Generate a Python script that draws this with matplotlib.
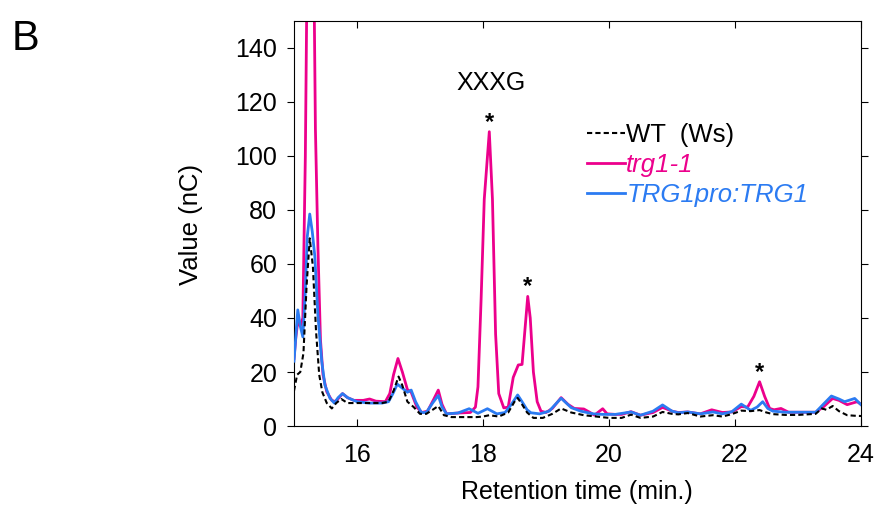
import matplotlib
matplotlib.use("Agg")
import matplotlib.pyplot as plt

plt.rcParams['font.family'] = ['Liberation Sans', 'DejaVu Sans']

# retention time (min.) / value (nC)
wt_t = [15.0, 15.05, 15.1, 15.15, 15.2, 15.25, 15.3, 15.35, 15.4, 15.45, 15.52, 15.6, 15.67,
        15.75, 15.85, 16.0, 16.2, 16.4, 16.5, 16.58, 16.66, 16.72, 16.8, 16.9, 17.0, 17.1,
        17.2, 17.29, 17.38, 17.5, 17.7, 17.9, 18.0, 18.1, 18.25, 18.4, 18.5, 18.55, 18.62,
        18.7, 18.8, 18.95, 19.1, 19.24, 19.4, 19.6, 19.8, 20.0, 20.2, 20.35, 20.5, 20.7,
        20.85, 21.0, 21.1, 21.25, 21.45, 21.65, 21.8, 21.95, 22.1, 22.25, 22.39, 22.5, 22.6,
        22.8, 23.0, 23.28, 23.38, 23.45, 23.55, 23.65, 23.78, 23.9, 24.0]
wt_v = [13, 19, 20, 27, 52, 69.5, 59, 35, 19, 12.5, 8.5, 6.5, 8.5,
        10, 8.5, 8.5, 8.5, 8.5, 9, 13, 18.3, 15, 9, 7, 4.5, 4.5,
        6, 7.4, 4, 3.3, 3.3, 3.3, 3.5, 4, 3.5, 5, 9, 10.4, 8,
        5, 3, 3, 4.5, 6.5, 5, 4, 3.5, 3, 3, 4.2, 3, 3.5,
        5.2, 4.5, 4.3, 4.8, 3.5, 4, 3.5, 4.4, 5.7, 5.5, 5.9, 5, 4.4,
        4.1, 4.1, 4.5, 6.5, 6, 7.4, 5.5, 4, 3.8, 3.7]

trg_t = [15.0, 15.03, 15.06, 15.1, 15.14, 15.18, 15.22, 15.26, 15.29, 15.34, 15.38, 15.42,
         15.46, 15.52, 15.6, 15.66, 15.77, 15.85, 15.95, 16.1, 16.2, 16.3, 16.45, 16.52,
         16.58, 16.65, 16.72, 16.8, 16.86, 16.95, 17.03, 17.12, 17.22, 17.29, 17.35, 17.42,
         17.6, 17.8, 17.88, 17.92, 17.97, 18.02, 18.1, 18.15, 18.2, 18.25, 18.33, 18.4,
         18.48, 18.56, 18.62, 18.66, 18.71, 18.75, 18.8, 18.86, 18.92, 19.0, 19.1, 19.24,
         19.35, 19.45, 19.6, 19.7, 19.77, 19.85, 19.9, 19.97, 20.1, 20.2, 20.35, 20.5, 20.7,
         20.85, 21.0, 21.1, 21.25, 21.45, 21.63, 21.8, 21.95, 22.1, 22.2, 22.3, 22.39, 22.47,
         22.55, 22.62, 22.73, 22.85, 23.0, 23.28, 23.4, 23.55, 23.65, 23.78, 23.94, 24.0]
trg_v = [25, 33, 38.6, 37, 40, 100, 200, 300, 230, 110, 66, 32,
         19, 12.7, 9.5, 9, 12, 10.5, 9.5, 9.5, 10, 9.2, 9, 12,
         19, 25, 20, 13.5, 12.5, 7, 5, 5.5, 10, 13.3, 8, 4.5,
         4.8, 5, 7, 14.5, 47, 84, 109, 84, 34, 12, 6.7, 7,
         18, 22.6, 22.8, 34, 48, 40, 20, 9, 5.5, 5, 6.5, 10.5,
         8, 6.5, 6.3, 5, 4, 5.5, 6.4, 4.5, 4.3, 4.3, 5.3, 4, 5,
         6.9, 5.5, 5, 5.2, 4.5, 6, 5, 5.2, 7.2, 7, 11, 16.4, 11,
         6.5, 6, 6.5, 5.1, 5.1, 5.1, 7, 10.2, 9.5, 7.9, 9, 8]

comp_t = [15.0, 15.06, 15.1, 15.14, 15.18, 15.21, 15.25, 15.29, 15.33, 15.38, 15.44, 15.49,
          15.57, 15.64, 15.7, 15.77, 15.85, 16.0, 16.2, 16.4, 16.5, 16.57, 16.64, 16.72,
          16.8, 16.86, 16.93, 17.02, 17.1, 17.2, 17.29, 17.35, 17.42, 17.6, 17.78, 17.92,
          18.07, 18.22, 18.35, 18.45, 18.55, 18.62, 18.7, 18.76, 18.9, 19.05, 19.24, 19.4,
          19.55, 19.75, 19.9, 20.1, 20.35, 20.5, 20.7, 20.85, 21.0, 21.1, 21.25, 21.45,
          21.65, 21.8, 21.95, 22.1, 22.25, 22.35, 22.44, 22.52, 22.6, 22.8, 23.0, 23.28,
          23.4, 23.53, 23.65, 23.74, 23.9, 24.0]
comp_v = [24, 43, 37, 33, 50, 70, 78.5, 72, 63, 41, 24, 15.2,
          10.3, 8.5, 10.5, 12, 10.5, 9, 8.5, 8.5, 9, 12, 15.5, 14,
          12.5, 13.3, 9, 5, 5, 8.5, 11.3, 7, 4.5, 4.8, 6.4, 4.7,
          6.4, 4.5, 5, 8, 11.5, 9, 6, 4.9, 4.5, 5.5, 10.3, 6.8,
          5.5, 4.5, 4.3, 4.3, 5.2, 4, 5.5, 7.8, 5.5, 4.9, 5.2, 4.5,
          5.2, 4.5, 5.3, 8.1, 5.8, 7, 9, 6.5, 5.5, 5.1, 5.1, 5.1,
          8, 11.1, 10, 9, 10.2, 7.9]

star_t = [18.1, 18.71, 22.39]
star_v = [109, 48, 16.4]

fig = plt.figure(figsize=(8.76, 5.05), dpi=100)
ax = fig.add_axes([294 / 876, 1 - 426 / 505, 567 / 876, 405 / 505])

ax.plot(trg_t, trg_v, color='#EC008C', lw=2.0, label='trg1-1', zorder=2,
        solid_joinstyle='round')
ax.plot(comp_t, comp_v, color='#2B7BF2', lw=2.0, label='TRG1pro:TRG1', zorder=3,
        solid_joinstyle='round')
ax.plot(wt_t, wt_v, color='black', lw=1.5, ls=(0, (2.5, 1.5)), label='WT  (Ws)', zorder=4)

for t, v in zip(star_t, star_v):
    ax.text(t, v + 3.5, '*', ha='center', va='center', fontsize=17, fontweight='bold')
ax.text(18.13, 127, 'XXXG', ha='center', va='center', fontsize=18)

ax.set_xlim(15, 24)
ax.set_ylim(0, 150)
ax.set_xticks([16, 18, 20, 22, 24])
ax.set_yticks(range(0, 141, 20))
ax.tick_params(axis='x', direction='in', top=True, length=5, width=0.8, labelsize=18, pad=12)
ax.tick_params(axis='y', direction='out', right=True, length=5, width=0.8, labelsize=18, pad=7)
for s in ax.spines.values():
    s.set_linewidth(0.8)

handles, labels = ax.get_legend_handles_labels()
order = [2, 0, 1]
leg = ax.legend([handles[i] for i in order], [labels[i] for i in order],
                loc='upper left', bbox_to_anchor=(587 / 876, 1 - 123 / 505),
                bbox_transform=fig.transFigure, frameon=False, fontsize=18.5,
                handlelength=1.48, handletextpad=0.05, labelspacing=0.23,
                borderpad=0, borderaxespad=0)
for txt, ln in zip(leg.get_texts(), leg.get_lines()):
    txt.set_color(ln.get_color())
    if ln.get_color() != 'black':
        txt.set_style('italic')

fig.text(577 / 876, 1 - 492 / 505, 'Retention time (min.)', ha='center', va='center', fontsize=18)
fig.text(191 / 876, 1 - 224 / 505, 'Value (nC)', rotation=90, ha='center', va='center', fontsize=18.5)
fig.text(12 / 876, 1 - 50 / 505, 'B', fontsize=30, ha='left', va='baseline')

fig.savefig('out.png', dpi=100)
